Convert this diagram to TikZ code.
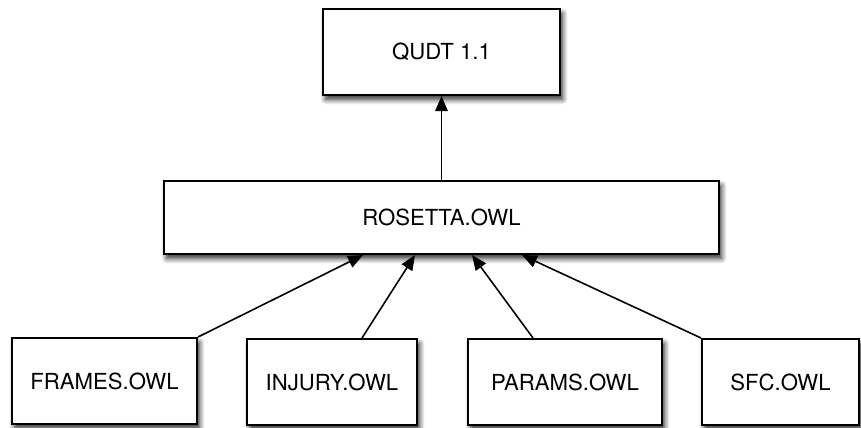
\documentclass[tikz,border=0pt]{standalone}
\usepackage{fontspec}
\setmainfont{TeX Gyre Heros}
\usetikzlibrary{arrows.meta,calc,shadows.blur}

\begin{document}
\begin{tikzpicture}[x=0.02cm, y=-0.02cm,
		owlbox/.style = {draw, line width=1.2pt, fill=white, align=center,
			font=\fontsize{12.6}{15}\selectfont,
			blur shadow={shadow xshift=1.5pt, shadow yshift=-2.5pt, shadow blur steps=8, shadow blur radius=3pt, shadow opacity=85}},
		owlarrow/.style = {line width=0.9pt, -{Triangle[length=0.3cm, width=0.25cm]}}]
		
		\useasboundingbox (0,0) rectangle (861,427);
		
		% top box
		\node[owlbox, minimum width=4.74cm, minimum height=1.72cm] (qudt) at (441.5,52) {QUDT 1.1};
		
		% middle box
		\node[owlbox, minimum width=11.1cm, minimum height=1.46cm] (rosetta) at (441.5,217.5) {ROSETTA.OWL};
		
		% bottom boxes
		\node[owlbox, minimum width=3.7cm, minimum height=1.72cm] (frames) at (104.5,381) {FRAMES.OWL};
		\node[owlbox, minimum width=3.4cm, minimum height=1.72cm] (injury) at (332,382) {INJURY.OWL};
		\node[owlbox, minimum width=3.88cm, minimum height=1.72cm] (params) at (565,382) {PARAMS.OWL};
		\node[owlbox, minimum width=3.14cm, minimum height=1.72cm] (sfc) at (780.5,382) {SFC.OWL};
		
		% arrows
		\draw[owlarrow] (rosetta.north) -- (qudt.south);
		\draw[owlarrow] (frames.north east) -- ($(rosetta.south)+(-78.5,0)$);
		\draw[owlarrow] ($(injury.north)+(30,0)$) -- ($(rosetta.south)+(-26.5,0)$);
		\draw[owlarrow] ($(params.north)+(-32,0)$) -- ($(rosetta.south)+(30.5,0)$);
		\draw[owlarrow] (sfc.north west) -- ($(rosetta.south)+(80.5,0)$);
		
\end{tikzpicture}
\end{document}
